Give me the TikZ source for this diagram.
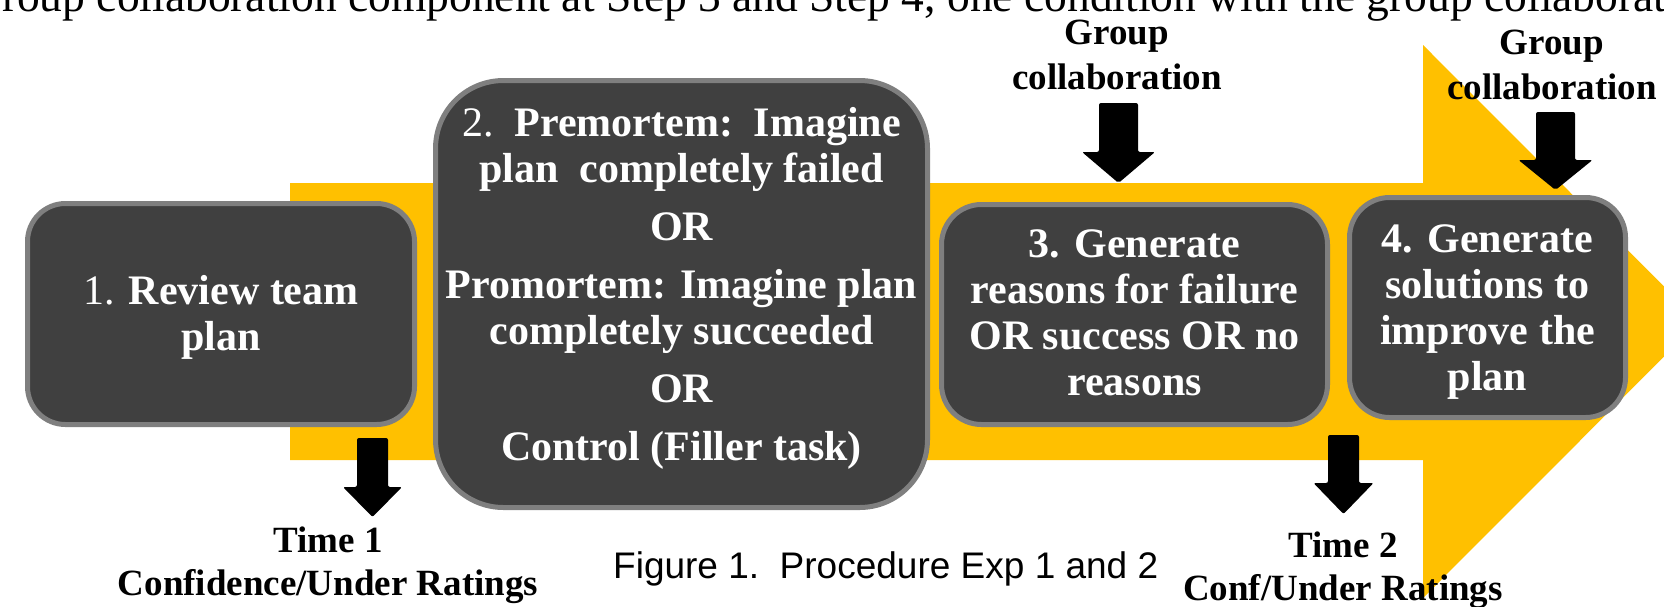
\documentclass[tikz,border=0pt]{standalone}
\usepackage{fontspec}
\setmainfont{Liberation Serif}
\newfontfamily\figfont{Liberation Sans}
\definecolor{FlowGold}{HTML}{FFC000}
\definecolor{BoxFill}{HTML}{404040}
\definecolor{BoxEdge}{HTML}{7F7F7F}

\begin{document}
\begin{tikzpicture}[
  x=1pt, y=-1pt,
  stepbox/.style={draw=BoxEdge, fill=BoxFill, line width=5pt, rounded corners=#1,
                  text=white, align=center, inner sep=2pt,
                  font=\fontsize{42}{46}\selectfont\bfseries},
  stepbox/.default=38pt,
  note/.style={align=center, inner sep=0pt, font=\fontsize{37}{45}\selectfont\bfseries},
  blockarr/.style={fill=black, rounded corners=2pt},
]
  \useasboundingbox (0,0) rectangle (1664,606);
  \clip (0,0) rectangle (1664,606);

  % line of running text cut by the top edge
  \node[anchor=base west, inner sep=0pt, font=\fontsize{45.5}{50}\selectfont] (prev) at (-31,11)
    {Group collaboration component at Step 3 and Step 4, one condition with the group collaboration};

  % big process arrow
  \fill[FlowGold] (290,183) -- (1423,183) -- (1423,45) -- (1699,321.5)
    -- (1423,598) -- (1423,460) -- (290,460) -- cycle;

  \node[stepbox, minimum width=387pt, minimum height=221pt, text depth=3pt] (review) at (221,314)
    {{\mdseries 1.} Review team\\plan};
  \node[stepbox=68pt, minimum width=492pt, minimum height=427pt, text depth=21pt] (premortem) at (681.5,294)
    {{\mdseries 2.}\ \ Premortem:\ \ Imagine\\plan\ \ completely failed\\[12pt]
     OR\\[12pt]Promortem: Imagine plan\\completely succeeded\\[12pt]
     OR\\[12pt]Control (Filler task)};
  \node[stepbox=40pt, minimum width=386pt, minimum height=220pt, text depth=4pt] (reasons) at (1134.5,314.5)
    {3. Generate\\reasons for failure\\OR success OR no\\reasons};
  \node[stepbox=40pt, minimum width=276pt, minimum height=220pt, text depth=0pt] (solutions) at (1487.5,307.5)
    {4. Generate\\solutions to\\improve the\\plan};

  % block arrows: centre / top / neck / tip / half shaft / half head
  \foreach \cx/\ytop/\yneck/\ytip/\sw/\hw in {1118.5/103/152/183/19.5/36.5,
      1555.5/112/160/190/19.5/37, 372.5/438/487/517/15.5/29.5, 1343.5/435/483/514/15.5/30}
    \fill[blockarr] (\cx-\sw,\ytop) -- (\cx+\sw,\ytop) -- (\cx+\sw,\yneck) -- (\cx+\hw,\yneck)
      -- (\cx,\ytip) -- (\cx-\hw,\yneck) -- (\cx-\sw,\yneck) -- cycle;

  \node[note] (grpA) at (1117,55) {Group\\collaboration};
  \node[note] (grpB) at (1552,65) {Group\\collaboration};
  \node[note, font=\fontsize{37}{43}\selectfont\bfseries] (timeA) at (328,565)
    {Time 1\\Confidence/Under Ratings};
  \node[note, font=\fontsize{37}{43}\selectfont\bfseries] (timeB) at (1343,570)
    {Time 2\\Conf/Under Ratings};

  \node[anchor=base west, inner sep=0pt, font=\figfont\fontsize{37}{44}\selectfont] (caption)
    at (613,578) {Figure 1.\ \ Procedure Exp 1 and 2};
\end{tikzpicture}
\end{document}
